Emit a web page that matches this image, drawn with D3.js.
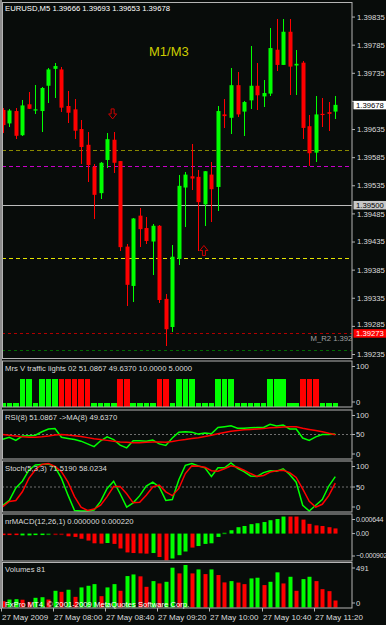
<!DOCTYPE html>
<html>
<head>
<meta charset="utf-8">
<title>EURUSD,M5</title>
<script src="https://cdnjs.cloudflare.com/ajax/libs/d3/7.8.5/d3.min.js"></script>
<style>
body { margin: 0; background: #080c0a; }
svg { display: block; font-family: "Liberation Sans", Arial, sans-serif; }
</style>
</head>
<body>
<svg id="chart" width="386" height="625"></svg>
<script>
// EURUSD M5, 27 May 2009, one bar every 5 minutes from 07:20 to 11:35

var times = ["07:20","07:25","07:30","07:35","07:40","07:45","07:50","07:55",
"08:00","08:05","08:10","08:15","08:20","08:25","08:30","08:35","08:40","08:45","08:50","08:55",
"09:00","09:05","09:10","09:15","09:20","09:25","09:30","09:35","09:40","09:45","09:50","09:55",
"10:00","10:05","10:10","10:15","10:20","10:25","10:30","10:35","10:40","10:45","10:50","10:55",
"11:00","11:05","11:10","11:15","11:20","11:25","11:30","11:35"]

var open = [1.39669,1.39645,1.39667,1.39624,1.39679,1.39668,1.39667,1.39712,1.39742,1.39741,
1.39676,1.39670,1.39635,1.39607,1.39568,1.39521,1.39580,1.39616,1.39578,1.39426,
1.39356,1.39481,1.39459,1.39435,1.39463,1.39333,1.39283,1.39404,1.39531,1.39551,
1.39550,1.39501,1.39554,1.39532,1.39661,1.39655,1.39713,1.39666,1.39686,1.39712,
1.39693,1.39698,1.39776,1.39749,1.39808,1.39748,1.39753,1.39640,1.39593,1.39662,
1.39665,1.39666]
var high = [1.39673,1.39671,1.39672,1.39687,1.39701,1.39713,1.39710,1.39744,1.39753,1.39745,
1.39703,1.39689,1.39651,1.39630,1.39573,1.39577,1.39628,1.39629,1.39579,1.39431,
1.39477,1.39495,1.39479,1.39466,1.39464,1.39342,1.39429,1.39553,1.39559,1.39608,
1.39562,1.39561,1.39577,1.39676,1.39688,1.39743,1.39737,1.39684,1.39783,1.39753,
1.39722,1.39814,1.39830,1.39831,1.39830,1.39776,1.39756,1.39660,1.39694,1.39690,
1.39683,1.39693]
var low = [1.39628,1.39639,1.39617,1.39623,1.39670,1.39662,1.39630,1.39681,1.39691,1.39665,
1.39645,1.39618,1.39573,1.39540,1.39475,1.39510,1.39566,1.39557,1.39418,1.39321,
1.39328,1.39426,1.39430,1.39375,1.39325,1.39250,1.39275,1.39393,1.39460,1.39527,
1.39418,1.39462,1.39470,1.39489,1.39637,1.39626,1.39657,1.39623,1.39670,1.39669,
1.39674,1.39694,1.39738,1.39748,1.39695,1.39696,1.39617,1.39569,1.39577,1.39639,
1.39632,1.39653]
var close = [1.39642,1.39668,1.39623,1.39677,1.39671,1.39670,1.39708,1.39741,1.39747,1.39673,
1.39664,1.39632,1.39603,1.39571,1.39518,1.39575,1.39617,1.39575,1.39425,1.39358,
1.39476,1.39457,1.39436,1.39463,1.39331,1.39279,1.39408,1.39534,1.39554,1.39547,
1.39505,1.39560,1.39528,1.39667,1.39658,1.39713,1.39661,1.39683,1.39712,1.39695,
1.39699,1.39779,1.39749,1.39808,1.39746,1.39751,1.39637,1.39592,1.39661,1.39660,
1.39662,1.39678]

// horizontal levels drawn on the price chart
var levelPrices = [1.39598, 1.39569, 1.39500, 1.39405, 1.39272, 1.39243]
var priceTicks = [1.39835,1.39785,1.39735,1.39685,1.39635,1.39585,1.39535,1.39485,1.39435,1.39385,1.39335,1.39285,1.39235]

// arrow signals
var signalTimes = ["08:45", "09:55"]
var signalPrices = [1.39653, 1.39428]
var signalDir = ["down", "up"]

// Mrs V traffic lights
var tlValue = [7,7,7,60,60,7,60,60,60, 60,60,60,60,60, 7,7,7,7, 60,60, 7,7,7,7, 60,60, 7,
60,60,60, 7,7,7, 60,60,60, 7,7,7,7,7, 60,60,60, 7,7, 60,60,60, 7,7,7]
var tlSignal = ["buy","buy","buy","buy","buy","buy","buy","buy","buy",
"sell","sell","sell","sell","sell", "buy","buy","buy","buy", "sell","sell",
"buy","buy","buy","buy", "sell","sell",
"buy","buy","buy","buy","buy","buy","buy","buy","buy","buy","buy","buy","buy","buy","buy","buy","buy","buy","buy","buy",
"sell","sell","sell", "buy","buy","buy"]

// RSI(8) and its MA(8)
var rsi = [40.4,44.4,38,46.8,47.6,48.4,55.6,61.2,62,44.4,42,39.6,36.4,30.8,25.2,37.2,45.2,39.6,28.4,22.8,
37.2,37.2,36.4,38.8,30.8,27.6,42.8,54.8,55.6,54.8,50.8,53.2,51.6,64.4,66,67.6,62.8,62.8,63.6,64.4,
64.4,70.8,67.6,69.2,61.2,61.2,42.8,38,45.2,50,50,51.09]
var rsiMa = [50,48.4,46.8,45.2,44.4,44.4,45.2,46.8,49.2,50,49.2,47.6,46,43.6,41.2,39.6,38,36.4,34.8,34,
33.2,33.2,34,34.8,34.8,34,35.6,38,39.6,42,43.6,46,48.4,51.6,54,56.4,58,59.6,60.4,61.2,
62,63.6,64.4,65.2,66,66,62.8,60.4,58,55.6,52.4,49.64]

// Stoch(5,3,3)
var stochMain = [12,22,48,62,85,96,97,98,92,68,33,1,0,0,2,20,47,62,36,8,17,32,52,60,50,22,24,65,95,99,
94,90,72,90,90,100,89,82,73,72,80,84,83,88,76,60,12,0,12,24,52,71.52]
var stochSignal = [9,20,22,40,68,86,97,99,93,82,60,30,8,1,4,12,30,51,51,36,17,18,33,50,54,40,32,47,78,94,
93,91,84,83,88,94,91,85,78,72,74,81,84,85,80,70,46,20,8,14,32,58.02]

// nrMACD(12,26,1) histogram, 1 = rising bar
var macd = [-0.00005,-0.00005,-0.00005,-0.00006,-0.00006,-0.00005,-0.00004,-0.00002,-0.00001,-0.00001,
-0.00009,-0.00011,-0.00017,-0.00023,-0.00032,-0.00033,-0.00031,-0.00034,-0.00049,-0.00062,
-0.00064,-0.00065,-0.00066,-0.00064,-0.00077,-0.00088,-0.00082,-0.00071,-0.00059,-0.00046,
-0.00041,-0.00034,-0.00032,-0.00011,0.00003,0.00011,0.00021,0.00025,0.00031,0.00034,
0.00038,0.00044,0.00048,0.00056,0.00056,0.00056,0.00046,0.00032,0.00027,0.00025,0.00021,0.00017]
var macdUp = [0,0,0,1,1,1,1,1,0,0,0,0,0,0,0,0,1,0,0,0,0,0,0,1,0,0,1,1,1,0,
1,1,1,1,1,1,1,1,1,1,1,1,1,1,0,0,0,0,0,0,0,0]

// tick volumes
var volume = [73,92,96,90,65,112,119,92,193,181,205,123,232,251,270,131,232,270,193,363,
382,360,239,305,278,297,460,394,491,394,440,386,440,375,290,305,288,270,336,344,
259,297,406,278,355,193,328,355,305,212,189,81]

var timeTicks = ["07:20","08:00","08:40","09:20","10:00","10:40","11:20"]
var timeLabels = ["27 May 2009","27 May 08:00","27 May 08:40","27 May 09:20","27 May 10:00","27 May 10:40","27 May 11:20"]

//----------------------------------------------------------------

var W = 386, H = 625
var plotLeft = 2, plotRight = 352
var bull = "#00ff00", bear = "#ff0000"
var frameColor = "#b4b4b4", textColor = "#dcdcdc"
var fontSize = "7.7px"

var panels = {
main: {top: 2.5, bottom: 358.5},
tl: {top: 361, bottom: 407},
rsi: {top: 410, bottom: 459},
stoch: {top: 461, bottom: 512},
macd: {top: 514, bottom: 561},
vol: {top: 562.5, bottom: 608}
}

var svg = d3.select("#chart")
svg.append("rect").attr("width", W).attr("height", H).attr("fill", "#080c0a")

var x = d3.scalePoint().domain(times).range([2.8, 335.3])
function cx(t){ return Math.round(x(t)) + 0.5 }

var yPrice = d3.scaleLinear().domain([1.39227, 1.39860]).range([panels.main.bottom, panels.main.top])
var yTl = d3.scaleLinear().domain([0, 100]).range([406.5, 361])
var yRsi = d3.scaleLinear().domain([0, 100]).range([459, 410])
var yStoch = d3.scaleLinear().domain([0, 100]).range([511, 463])
var yMacd = d3.scaleLinear().domain([-0.000902, 0.000644]).range([561, 514])
var yVol = d3.scaleLinear().domain([0, 491]).range([607.5, 565])

var defs = svg.append("defs")
function panel(name){
var p = panels[name]
defs.append("clipPath").attr("id", "clip-" + name)
.append("rect").attr("x", plotLeft).attr("y", p.top)
.attr("width", plotRight - plotLeft).attr("height", p.bottom - p.top)
return svg.append("g").attr("clip-path", "url(#clip-" + name + ")")
}

//Main price chart
var gMain = panel("main")

var levelStyles = [
{color: "#8a8a00", dash: "4,3"},
{color: "#c800c8", dash: "4,3"},
{color: "#bcbcbc", dash: null},
{color: "#e4e400", dash: "4,3"},
{color: "#b00000", dash: "3,3"},
{color: "#006a00", dash: "3,3"}
]
gMain.selectAll(".level").data(levelPrices).enter().append("line")
.attr("x1", plotLeft).attr("x2", plotRight)
.attr("y1", function(d){ return Math.round(yPrice(d)) + 0.5 })
.attr("y2", function(d){ return Math.round(yPrice(d)) + 0.5 })
.attr("stroke", function(d, i){ return levelStyles[i].color })
.attr("stroke-dasharray", function(d, i){ return levelStyles[i].dash })
.attr("stroke-width", 1.2)

gMain.append("text").text("M1/M3")
.attr("x", 149).attr("y", 56)
.attr("fill", "#cccc00").style("font-size", "13px")

gMain.append("text").text("M_R2 1.39273")
.attr("x", 310.5).attr("y", 340.5)
.attr("fill", "#a0a0a0").style("font-size", fontSize)

var candles = times.map(function(t, i){
return {t: t, o: open[i], h: high[i], l: low[i], c: close[i]}
})

gMain.selectAll(".wick").data(candles).enter().append("line")
.attr("class", "wick")
.attr("x1", function(d){ return cx(d.t) })
.attr("x2", function(d){ return cx(d.t) })
.attr("y1", function(d){ return yPrice(d.h) })
.attr("y2", function(d){ return yPrice(d.l) })
.attr("stroke", function(d){ return d.c >= d.o ? bull : bear })
.attr("shape-rendering", "crispEdges")

gMain.selectAll(".body").data(candles).enter().append("rect")
.attr("class", "body")
.attr("x", function(d){ return cx(d.t) - 2 })
.attr("width", 4)
.attr("y", function(d){ return yPrice(Math.max(d.o, d.c)) })
.attr("height", function(d){ return Math.max(1.2, Math.abs(yPrice(d.o) - yPrice(d.c))) })
.attr("fill", function(d){ return d.c >= d.o ? bull : bear })

//arrows: hollow, tip at the signal price
var arrowDown = "M-1.5,-10 L1.5,-10 L1.5,-5 L4,-5 L0,0 L-4,-5 L-1.5,-5 Z"
var arrowUp = "M-1.5,10 L1.5,10 L1.5,5 L4,5 L0,0 L-4,5 L-1.5,5 Z"
gMain.selectAll(".signal").data(signalTimes).enter().append("path")
.attr("d", function(d, i){ return signalDir[i] == "down" ? arrowDown : arrowUp })
.attr("transform", function(d, i){ return "translate(" + (x(d) - 1) + "," + yPrice(signalPrices[i]) + ")" })
.attr("fill", "none").attr("stroke", "#d00000").attr("stroke-width", 1)

svg.append("text").text("EURUSD,M5  1.39666 1.39693 1.39653 1.39678")
.attr("x", 5).attr("y", 11).attr("fill", "#ffffff").style("font-size", fontSize)

//Traffic lights
var gTl = panel("tl")
gTl.selectAll("rect").data(tlValue).enter().append("rect")
.attr("x", function(d, i){ return x(times[i]) - 2.7 })
.attr("width", 5.6)
.attr("y", function(d){ return yTl(d) })
.attr("height", function(d){ return panels.tl.bottom - yTl(d) })
.attr("fill", function(d, i){ return tlSignal[i] == "buy" ? bull : bear })
.attr("shape-rendering", "crispEdges")

//RSI
var gRsi = panel("rsi")
gRsi.append("line").attr("x1", plotLeft).attr("x2", plotRight)
.attr("y1", yRsi(50)).attr("y2", yRsi(50))
.attr("stroke", "#707070").attr("stroke-dasharray", "2,2")
var rsiLine = d3.line().x(function(d, i){ return x(times[i]) }).y(function(d){ return yRsi(d) })
gRsi.append("path").datum(rsi).attr("d", rsiLine).attr("fill", "none").attr("stroke", bull).attr("stroke-width", 1.5)
gRsi.append("path").datum(rsiMa).attr("d", rsiLine).attr("fill", "none").attr("stroke", bear).attr("stroke-width", 1.5)

//Stochastic
var gSt = panel("stoch")
gSt.append("line").attr("x1", plotLeft).attr("x2", plotRight)
.attr("y1", yStoch(50)).attr("y2", yStoch(50))
.attr("stroke", "#707070").attr("stroke-dasharray", "2,2")
var stLine = d3.line().x(function(d, i){ return x(times[i]) }).y(function(d){ return yStoch(d) })
gSt.append("path").datum(stochMain).attr("d", stLine).attr("fill", "none").attr("stroke", bull).attr("stroke-width", 1.5)
gSt.append("path").datum(stochSignal).attr("d", stLine).attr("fill", "none").attr("stroke", bear).attr("stroke-width", 1.5)

//MACD
var gMacd = panel("macd")
gMacd.selectAll("rect").data(macd).enter().append("rect")
.attr("x", function(d, i){ return cx(times[i]) - 2 })
.attr("width", 4)
.attr("y", function(d){ return Math.min(yMacd(0), yMacd(d)) })
.attr("height", function(d){ return Math.max(1.5, Math.abs(yMacd(d) - yMacd(0))) })
.attr("fill", function(d, i){
var small = Math.abs(d) < 0.000035
if (macdUp[i]) return small ? "#00a000" : bull
return small ? "#a00000" : bear
})

//Volumes
var gVol = panel("vol")
gVol.selectAll("rect").data(volume).enter().append("rect")
.attr("x", function(d, i){ return cx(times[i]) - 2 })
.attr("width", 4)
.attr("y", function(d){ return yVol(d) })
.attr("height", function(d){ return yVol(0) - yVol(d) })
.attr("fill", function(d, i){ return (i > 0 && d > volume[i - 1]) ? bull : bear })

svg.append("text").text("FxPro MT4, \u00a9 2001-2009 MetaQuotes Software Corp.")
.attr("x", 5).attr("y", 607).attr("fill", "#ffffff").style("font-size", fontSize)

//panel titles
var titles = [
["tl", "Mrs V traffic lights 02 51.0867 49.6370 10.0000 5.0000"],
["rsi", "RSI(8) 51.0867  ->MA(8) 49.6370"],
["stoch", "Stoch(5,3,3) 71.5190 58.0234"],
["macd", "nrMACD(12,26,1) 0.000000 0.000220"],
["vol", "Volumes 81"]
]
svg.selectAll(".title").data(titles).enter().append("text")
.attr("x", 5).attr("y", function(d){ return panels[d[0]].top + 9.5 })
.attr("fill", textColor).style("font-size", fontSize)
.text(function(d){ return d[1] })

//frames
Object.keys(panels).forEach(function(k){
var p = panels[k]
svg.append("rect").attr("x", plotLeft + 0.5).attr("y", p.top)
.attr("width", plotRight - plotLeft - 0.5).attr("height", p.bottom - p.top)
.attr("fill", "none").attr("stroke", frameColor).attr("stroke-width", 1)
})
svg.append("line").attr("x1", 1).attr("x2", 1).attr("y1", 0).attr("y2", 609)
.attr("stroke", "#8c8c8c").attr("stroke-width", 2)

//price marker boxes
var markers = [levelPrices[2], levelPrices[4], close[close.length - 1]]
var markerStyles = [
{fill: "#c8c8c8", text: "#000000", label: "1.39500"},
{fill: "#ff0000", text: "#ffffff", label: "1.39273"},
{fill: "#ffffff", text: "#000000", label: d3.format(".5f")(close[close.length - 1])}
]

//price axis: a tick label right under a marker box is hidden, a near one is pushed clear
function nearestMarkerGap(d){
var best = 99
markers.forEach(function(m){
var g = yPrice(d) - yPrice(m)
if (Math.abs(g) < Math.abs(best)) best = g
})
return best
}
var priceAxis = d3.axisRight(yPrice).tickValues(priceTicks).tickFormat(d3.format(".5f")).tickSize(3).tickPadding(2)
var ga = svg.append("g").attr("transform", "translate(" + plotRight + ",0)").call(priceAxis)
.attr("font-size", null).attr("font-family", null)
ga.select(".domain").remove()
ga.selectAll("line").attr("stroke", frameColor)
ga.selectAll("text").attr("fill", textColor).style("font-size", fontSize)
.style("display", function(d){ return Math.abs(nearestMarkerGap(d)) < 5 ? "none" : null })
.attr("y", function(d){
var g = nearestMarkerGap(d)
if (Math.abs(g) >= 9.5) return 0
return g < 0 ? -9.5 - g : 9.5 - g
})

var mk = svg.selectAll(".marker").data(markers).enter().append("g")
.attr("transform", function(d){ return "translate(" + (plotRight + 1.5) + "," + yPrice(d) + ")" })
mk.append("rect").attr("x", 0).attr("y", -4).attr("width", 33).attr("height", 8.5)
.attr("fill", function(d, i){ return markerStyles[i].fill })
mk.append("text").attr("x", 2.5).attr("dy", "0.35em")
.attr("fill", function(d, i){ return markerStyles[i].text })
.style("font-size", fontSize)
.text(function(d, i){ return markerStyles[i].label })

//sub panel scales, labels kept inside their panel like the terminal does
var subLabels = [
["tl", yTl, [100, 0], String],
["rsi", yRsi, [100, 50, 0], String],
["stoch", yStoch, [100, 50, 0], String],
["macd", yMacd, [0.000644, 0, -0.000902], function(v){ return v == 0 ? "0.00" : d3.format(".6f")(v) }],
["vol", yVol, [491, 0], String]
]
subLabels.forEach(function(s){
var p = panels[s[0]]
s[2].forEach(function(v){
var y = Math.max(p.top + 5.5, Math.min(p.bottom - 5, s[1](v)))
svg.append("line").attr("x1", plotRight).attr("x2", plotRight + 3).attr("y1", y).attr("y2", y).attr("stroke", frameColor)
var t = svg.append("text").attr("x", plotRight + 4).attr("y", y).attr("dy", "0.35em")
.attr("fill", textColor).style("font-size", fontSize).text(s[3](v))
if (s[0] == "macd") t.style("font-size", "7px").style("letter-spacing", "-0.25px")
})
})

//time axis
var gt = svg.append("g")
gt.selectAll("line").data(timeTicks).enter().append("line")
.attr("x1", function(d){ return Math.round(x(d)) - 1.5 })
.attr("x2", function(d){ return Math.round(x(d)) - 1.5 })
.attr("y1", 608).attr("y2", 611.5).attr("stroke", frameColor)
gt.selectAll("text").data(timeTicks).enter().append("text")
.attr("x", function(d){ return Math.round(x(d)) - 1 })
.attr("y", 619.5)
.attr("fill", textColor).style("font-size", "8px")
.text(function(d, i){ return timeLabels[i] })
</script>
</body>
</html>
